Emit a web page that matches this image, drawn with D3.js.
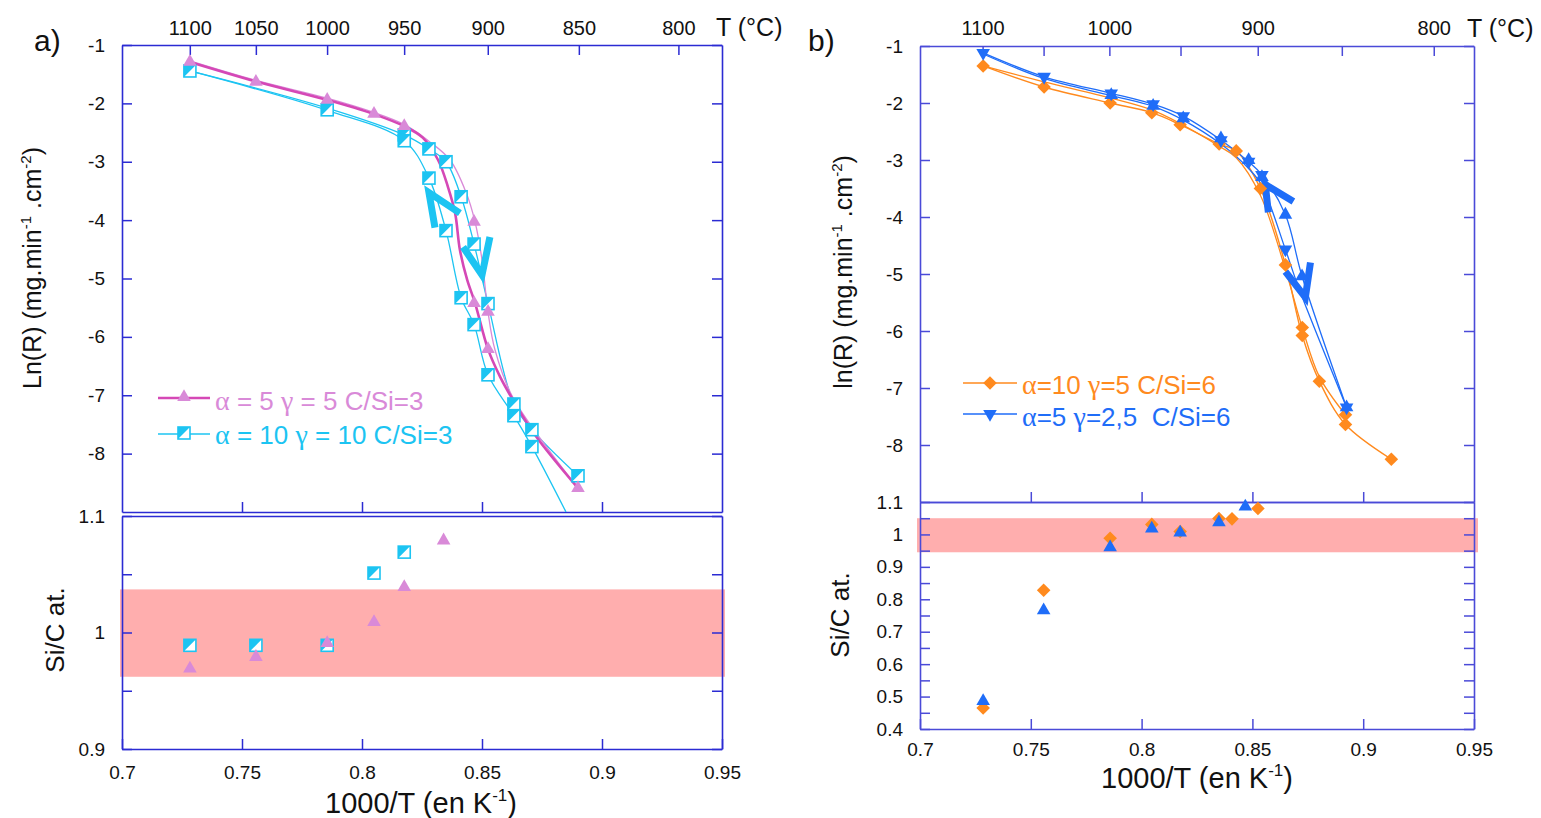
<!DOCTYPE html>
<html><head><meta charset="utf-8">
<script src="https://cdn.jsdelivr.net/npm/d3@7"></script>
<style>body{margin:0;background:#fff} svg{display:block} text{font-family:"Liberation Sans",Arial,sans-serif}</style>
</head><body>
<svg id="c" width="1541" height="818"></svg>
<script>
// ---------- tick data ----------
const tempTicks = [1100,1050,1000,950,900,850,800];
const tempLabelsA = ['1100','1050','1000','950','900','850','800'];
const tempLabelsB = ['1100','','1000','','900','','800'];
const invTTicks = [0.7,0.75,0.8,0.85,0.9,0.95];
const invTLabels = ['0.7','0.75','0.8','0.85','0.9','0.95'];
const lnRTicks = [-1,-2,-3,-4,-5,-6,-7,-8];
const sicTicksA = [0.9,0.95,1,1.05,1.1];
const sicLabelsA = ['0.9','','1','','1.1'];
const sicTicksB = [0.4,0.45,0.5,0.55,0.6,0.65,0.7,0.75,0.8,0.85,0.9,0.95,1,1.05,1.1];
const sicLabelsB = ['0.4','','0.5','','0.6','','0.7','','0.8','','0.9','','1','','1.1'];

// ---------- panel a : alpha=5 gamma=5 (magenta triangles) ----------
const a5_x   = [0.7283,0.7558,0.7855,0.805,0.8176,0.8467,0.8467,0.8525,0.8525,0.89];
const a5_lnR = [-1.29,-1.63,-1.94,-2.18,-2.39,-4.03,-5.42,-5.57,-6.21,-8.59];
// thick fitted curve
const a5fit_x   = [0.7283,0.7563,0.7854,0.8046,0.8175,0.8254,0.8317,0.8358,0.8388,0.8408,0.8438,0.8471,0.8525,0.8575,0.8629,0.8721,0.89];
const a5fit_lnR = [-1.29,-1.63,-1.94,-2.18,-2.39,-2.59,-2.97,-3.43,-3.88,-4.51,-5.02,-5.42,-6.21,-6.68,-7.08,-7.68,-8.59];
// thin heating line
const a5heat_x   = [0.7283,0.7563,0.7854,0.8046,0.8175,0.8283,0.8367,0.8433,0.8471,0.85,0.8525,0.8554,0.8629,0.89];
const a5heat_lnR = [-1.27,-1.61,-1.91,-2.15,-2.36,-2.66,-2.97,-3.52,-4.03,-4.68,-5.57,-6.22,-7.04,-8.59];
// ---------- panel a : alpha=10 gamma=10 (cyan half squares) ----------
const a10_x   = [0.7283,0.7855,0.8176,0.8176,0.8279,0.8279,0.835,0.835,0.8413,0.8413,0.8467,0.8467,0.8525,0.8525,0.8633,0.8633,0.8708,0.8708,0.89];
const a10_lnR = [-1.445,-2.11,-2.54,-2.64,-2.78,-3.28,-3.0,-4.18,-3.6,-5.33,-4.41,-5.79,-5.43,-6.65,-7.15,-7.35,-7.59,-7.88,-8.38];
const a10heat_x   = [0.7283,0.7855,0.8176,0.8279,0.835,0.8413,0.8467,0.8525,0.8633,0.8708,0.89];
const a10heat_lnR = [-1.445,-2.08,-2.54,-2.78,-3.0,-3.6,-4.41,-5.43,-7.15,-7.59,-8.38];
const a10cool_x   = [0.7283,0.7855,0.8176,0.8279,0.835,0.8413,0.8467,0.8525,0.8633,0.8708,0.885];
const a10cool_lnR = [-1.445,-2.12,-2.64,-3.28,-4.18,-5.33,-5.79,-6.65,-7.35,-7.88,-9.0];
// arrows (arm, apex, arm)
const arrowsA_x   = [[0.8408,0.8279,0.8304],[0.8421,0.85,0.8533]];
const arrowsA_lnR = [[-3.88,-3.53,-4.13],[-4.46,-4.94,-4.29]];
// Si/C panel a
const sicA10_x = [0.7283,0.7558,0.7855,0.805,0.8176];
const sicA10   = [0.989,0.989,0.989,1.051,1.069];
const sicA5_x  = [0.7283,0.7558,0.7855,0.805,0.8176,0.834];
const sicA5    = [0.969,0.979,0.991,1.009,1.039,1.079];
const bandA = [0.962,1.037];

// ---------- panel b : alpha=10 gamma=5 (orange diamonds) ----------
const b10_x   = [0.7285,0.756,0.7858,0.8046,0.8174,0.835,0.8427,0.8536,0.8649,0.8725,0.8725,0.8802,0.892,0.892,0.9127];
const b10_lnR = [-1.35,-1.72,-2.0,-2.17,-2.38,-2.72,-2.84,-3.5,-4.84,-5.94,-6.08,-6.88,-7.47,-7.64,-8.25];
const b10a_x   = [0.7285,0.756,0.7858,0.8046,0.8174,0.835,0.8427,0.8536,0.8649,0.8725,0.8802,0.892,0.9127];
const b10a_lnR = [-1.35,-1.72,-2.0,-2.17,-2.38,-2.72,-2.84,-3.5,-4.84,-6.08,-6.88,-7.64,-8.25];
const b10b_x   = [0.7285,0.756,0.7858,0.8046,0.8174,0.835,0.8427,0.8536,0.8649,0.8725,0.8802,0.892];
const b10b_lnR = [-1.35,-1.63,-1.91,-2.12,-2.36,-2.76,-2.96,-3.62,-4.92,-5.94,-6.8,-7.47];
// ---------- panel b : alpha=5 gamma=2,5 (blue triangles) ----------
const b5dn_x   = [0.7285,0.756,0.7863,0.8052,0.8188,0.8358,0.8483,0.8543,0.8649,0.8925];
const b5dn_lnR = [-1.12,-1.54,-1.83,-2.02,-2.23,-2.65,-3.03,-3.26,-4.57,-7.34];
const b5up_x   = [0.7863,0.8052,0.8188,0.8358,0.8483,0.8543,0.8649,0.8724,0.8925];
const b5up_lnR = [-1.86,-2.05,-2.27,-2.62,-3.0,-3.3,-3.96,-5.04,-7.34];
const b5a_x   = [0.7285,0.756,0.7863,0.8052,0.8188,0.8358,0.8483,0.8543,0.8649,0.8724,0.8925];
const b5a_lnR = [-1.12,-1.54,-1.83,-2.02,-2.23,-2.65,-3.03,-3.26,-3.96,-5.04,-7.34];
const b5b_x   = [0.7285,0.756,0.7863,0.8052,0.8188,0.8358,0.8483,0.8543,0.8649,0.8705,0.8925];
const b5b_lnR = [-1.14,-1.57,-1.87,-2.06,-2.3,-2.72,-3.15,-3.45,-4.57,-5.2,-7.34];
const arrowsB_x   = [[0.8685,0.8558,0.8572],[0.8649,0.8739,0.8762]];
const arrowsB_lnR = [[-3.73,-3.43,-3.92],[-4.96,-5.41,-4.8]];
// Si/C panel b
const sicB10_x = [0.7285,0.7558,0.7858,0.8046,0.8174,0.8349,0.8408,0.8525];
const sicB10   = [0.465,0.828,0.988,1.031,1.009,1.049,1.048,1.08];
const sicB5_x  = [0.7285,0.7558,0.7858,0.8046,0.8174,0.8349,0.8468];
const sicB5    = [0.486,0.766,0.96,1.018,1.006,1.037,1.086];
const bandB = [0.945,1.05];

// ---------- styles ----------
const CY='#1cc4f2', MGT='#d98ad8', MGL='#d548b6', OR='#ff8a1e', BL='#1f6df8';
const AXA='#2b2bd3', AXB='#4a4ad8', BAND='#ffaeae';

const svg = d3.select('#c');
const defs = svg.append('defs');
const zip = (xs,ys)=>xs.map((x,i)=>[x,ys[i]]);
const tri = d3.symbol().type(d3.symbolTriangle).size(80)();
const dia = d3.symbol().type(d3.symbolSquare).size(92)();

// scales
const xA = d3.scaleLinear([0.7,0.95],[122,722]);
const yA1 = d3.scaleLinear([-9,-1],[512,45]);
const yA2 = d3.scaleLinear([0.9,1.1],[749,516]);
const xB = d3.scaleLinear([0.7,0.95],[920,1474]);
const yB1 = d3.scaleLinear([-9,-1],[502,46]);
const yB2 = d3.scaleLinear([0.4,1.1],[729,502]);
const inv = t=>1000/(t+273.15);

function styleAxis(g,col,fs){
  g.selectAll('path.domain').attr('stroke',col).attr('stroke-width',1.6);
  g.selectAll('.tick line').attr('stroke',col).attr('stroke-width',1.5);
  g.selectAll('.tick text').attr('fill','#111').attr('font-size',fs||19).attr('font-family','"Liberation Sans",Arial,sans-serif');
}
function addAxis(axis, tx, ty, col, fs){
  const g = svg.append('g').attr('transform',`translate(${tx},${ty})`).call(axis);
  styleAxis(g,col,fs); return g;
}
function panel(x,y,yt,ylabels,col,opts){
  const [x0,x1]=x.range(), [yb,yt0]=y.range();
  addAxis(d3.axisLeft(y).tickValues(yt).tickSize(-10).tickSizeOuter(0).tickPadding(17).tickFormat((d,i)=>ylabels[i]), x0,0,col,19);
  addAxis(d3.axisRight(y).tickValues(yt).tickSize(-10).tickSizeOuter(0).tickFormat(''), x1,0,col);
  const bt = d3.axisBottom(x).tickValues(opts.bottomLabels? invTTicks : invTTicks.slice(1,5)).tickSize(-10).tickSizeOuter(0).tickPadding(opts.pad||17)
     .tickFormat(opts.bottomLabels? (d,i)=>invTLabels[i] : '');
  addAxis(bt,0,yb,col,19);
  if(opts.top){
    addAxis(d3.axisTop(x).tickValues(tempTicks.map(inv)).tickSize(-10).tickSizeOuter(0).tickPadding(opts.topPad).tickFormat((d,i)=>opts.top[i]),0,yt0,col,20);
  } else {
    addAxis(d3.axisTop(x).tickValues([]).tickSizeOuter(0),0,yt0,col);
  }
}
function clip(id,x,y){
  defs.append('clipPath').attr('id',id).append('rect')
    .attr('x',x.range()[0]).attr('y',y.range()[1]).attr('width',x.range()[1]-x.range()[0]).attr('height',y.range()[0]-y.range()[1]);
}
clip('cA1',xA,yA1); clip('cB1',xB,yB1);

function line(g,x,y,xs,ys,col,w,curve){
  g.append('path').datum(zip(xs,ys)).attr('fill','none').attr('stroke',col).attr('stroke-width',w)
   .attr('stroke-linejoin','round')
   .attr('d',d3.line().x(d=>x(d[0])).y(d=>y(d[1])).curve(curve||d3.curveCatmullRom.alpha(0.5)));
}
function triMarks(g,x,y,xs,ys,col,down){
  g.selectAll(null).data(zip(xs,ys)).join('path').attr('d',tri).attr('fill',col)
   .attr('transform',d=>`translate(${x(d[0])},${y(d[1])})${down?' rotate(180)':''}`);
}
function diaMarks(g,x,y,xs,ys,col){
  g.selectAll(null).data(zip(xs,ys)).join('path').attr('d',dia).attr('fill',col)
   .attr('transform',d=>`translate(${x(d[0])},${y(d[1])}) rotate(45)`);
}
function sqMarks(g,x,y,xs,ys){
  const s=12;
  const m = g.selectAll(null).data(zip(xs,ys)).join('g').attr('transform',d=>`translate(${x(d[0])},${y(d[1])})`);
  m.append('rect').attr('x',-s/2).attr('y',-s/2).attr('width',s).attr('height',s).attr('fill','#fff').attr('stroke',CY).attr('stroke-width',1.6);
  m.append('path').attr('d',`M${-s/2},${-s/2}L${s/2},${-s/2}L${-s/2},${s/2}Z`).attr('fill',CY);
}
function arrows(g,x,y,xss,yss,col){
  xss.forEach((xs,i)=>{
    g.append('path').datum(zip(xs,yss[i])).attr('fill','none').attr('stroke',col).attr('stroke-width',7)
     .attr('stroke-linejoin','miter').attr('stroke-miterlimit',10)
     .attr('d',d3.line().x(d=>x(d[0])).y(d=>y(d[1])));
  });
}

// ---------- bands ----------
svg.append('rect').attr('x',xA(0.7)-2).attr('width',xA(0.95)-xA(0.7)+5)
  .attr('y',yA2(bandA[1])).attr('height',yA2(bandA[0])-yA2(bandA[1])).attr('fill',BAND);
svg.append('rect').attr('x',xB(0.7)-3).attr('width',xB(0.95)-xB(0.7)+7)
  .attr('y',yB2(bandB[1])).attr('height',yB2(bandB[0])-yB2(bandB[1])).attr('fill',BAND);

// ---------- axes ----------
panel(xA,yA1,lnRTicks,lnRTicks.map(String),AXA,{top:tempLabelsA,topPad:10});
panel(xA,yA2,sicTicksA,sicLabelsA,AXA,{bottomLabels:true,pad:17});
panel(xB,yB1,lnRTicks,lnRTicks.map(String),AXB,{top:tempLabelsB,topPad:11});
panel(xB,yB2,sicTicksB,sicLabelsB,AXB,{bottomLabels:true,pad:14});

// ---------- panel a data ----------
const gA = svg.append('g').attr('clip-path','url(#cA1)');
line(gA,xA,yA1,a10heat_x,a10heat_lnR,CY,1.3);
line(gA,xA,yA1,a10cool_x,a10cool_lnR,CY,1.3);
line(gA,xA,yA1,a5heat_x,a5heat_lnR,MGT,1.3);
line(gA,xA,yA1,a5fit_x,a5fit_lnR,MGL,2.6);
arrows(gA,xA,yA1,arrowsA_x,arrowsA_lnR,CY);
sqMarks(gA,xA,yA1,a10_x,a10_lnR);
triMarks(gA,xA,yA1,a5_x,a5_lnR,MGT);
const gA2 = svg.append('g');
sqMarks(gA2,xA,yA2,sicA10_x,sicA10);
triMarks(gA2,xA,yA2,sicA5_x,sicA5,MGT);

// ---------- panel b data ----------
const gB = svg.append('g').attr('clip-path','url(#cB1)');
line(gB,xB,yB1,b10b_x,b10b_lnR,OR,1.3);
line(gB,xB,yB1,b10a_x,b10a_lnR,OR,1.4);
line(gB,xB,yB1,b5b_x,b5b_lnR,BL,1.3);
line(gB,xB,yB1,b5a_x,b5a_lnR,BL,1.3);
arrows(gB,xB,yB1,arrowsB_x,arrowsB_lnR,BL);
diaMarks(gB,xB,yB1,b10_x,b10_lnR,OR);
triMarks(gB,xB,yB1,b5up_x,b5up_lnR,BL,false);
triMarks(gB,xB,yB1,b5dn_x,b5dn_lnR,BL,true);
const gB2 = svg.append('g');
diaMarks(gB2,xB,yB2,sicB10_x,sicB10,OR);
triMarks(gB2,xB,yB2,sicB5_x,sicB5,BL,false);

// ---------- legends ----------
function legLine(x0,x1,y,col,w){ svg.append('line').attr('x1',x0).attr('x2',x1).attr('y1',y).attr('y2',y).attr('stroke',col).attr('stroke-width',w); }
function legText(x,y,col,parts){
  const t = svg.append('text').attr('x',x).attr('y',y).attr('font-size',26).attr('fill',col).style('white-space','pre');
  parts.forEach(p=>{ const s=t.append('tspan').text(p[0]); if(p[1]) s.attr('font-family','"Liberation Serif",serif').attr('font-size',28); });
}
legLine(158,210,398,MGL,2.4);
svg.append('path').attr('d',tri).attr('fill',MGT).attr('transform','translate(184,397)');
legLine(158,210,434,CY,1.3);
sqMarks(svg.append('g'),d3.scaleIdentity(),d3.scaleIdentity(),[184],[433]);
legText(215,410,MGT,[['α',1],[' = 5 '],['γ',1],[' = 5 C/Si=3']]);
legText(215,444,CY,[['α',1],[' = 10 '],['γ',1],[' = 10 C/Si=3']]);

legLine(963,1017,383,OR,1.4);
svg.append('path').attr('d',dia).attr('fill',OR).attr('transform','translate(990,383) rotate(45)');
legLine(963,1017,414,BL,1.4);
svg.append('path').attr('d',tri).attr('fill',BL).attr('transform','translate(990,414) rotate(180)');
legText(1022,394,OR,[['α',1],['=10 '],['γ',1],['=5 C/Si=6']]);
legText(1022,426,BL,[['α',1],['=5 '],['γ',1],['=2,5  C/Si=6']]);

// ---------- titles ----------
function ytitle(x,y,first){
  const t = svg.append('text').attr('transform',`translate(${x},${y}) rotate(-90)`).attr('text-anchor','middle').attr('font-size',25).attr('fill','#111');
  t.append('tspan').text(first+' (mg.min');
  t.append('tspan').attr('font-size',15).attr('dy',-10).text('-1');
  t.append('tspan').attr('dy',10).text(' .cm');
  t.append('tspan').attr('font-size',15).attr('dy',-10).text('-2');
  t.append('tspan').attr('dy',10).text(')');
}
ytitle(41,268,'Ln(R)');
ytitle(852,272,'ln(R)');
svg.append('text').attr('transform','translate(64,630) rotate(-90)').attr('text-anchor','middle').attr('font-size',26).attr('fill','#111').text('Si/C at.');
svg.append('text').attr('transform','translate(849,615) rotate(-90)').attr('text-anchor','middle').attr('font-size',26).attr('fill','#111').text('Si/C at.');
function xtitle(x,y){
  const t = svg.append('text').attr('x',x).attr('y',y).attr('text-anchor','middle').attr('font-size',29).attr('fill','#111');
  t.append('tspan').text('1000/T (en K');
  t.append('tspan').attr('font-size',17).attr('dy',-12).text('-1');
  t.append('tspan').attr('dy',12).text(')');
}
xtitle(421,813); xtitle(1197,788);
svg.append('text').attr('x',716).attr('y',36).attr('font-size',25).attr('fill','#111').text('T (°C)');
svg.append('text').attr('x',1467).attr('y',37).attr('font-size',25).attr('fill','#111').text('T (°C)');
svg.append('text').attr('x',34).attr('y',51).attr('font-size',30).attr('font-family','"Liberation Serif",serif').attr('fill','#111').text('a)');
svg.append('text').attr('x',808).attr('y',51).attr('font-size',30).attr('font-family','"Liberation Serif",serif').attr('fill','#111').text('b)');
</script>
</body></html>
